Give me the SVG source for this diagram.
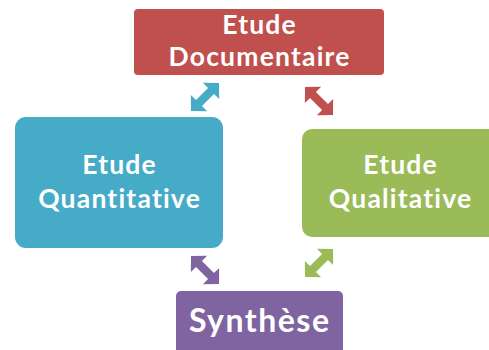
<svg xmlns="http://www.w3.org/2000/svg" xmlns:xlink="http://www.w3.org/1999/xlink" width="489" height="350" viewBox="0 0 489 350">
<style>
.lbl{font-family:Lato,"Open Sans",sans-serif;font-weight:700;font-size:26.5px;letter-spacing:1.2px;fill:#ffffff;text-anchor:middle}
.big{font-size:32px;letter-spacing:1.5px}
</style>
<defs>
<polygon id="dbl" points="-19.8,0 -8.5,-11.5 -8.5,-4.2 8.5,-4.2 8.5,-11.5 19.8,0 8.5,11.5 8.5,4.2 -8.5,4.2 -8.5,11.5"/>
</defs>
<rect width="489" height="350" fill="#ffffff"/>
<g id="connectors">
<use xlink:href="#dbl" fill="#45ABC7" transform="translate(205,97) rotate(-45)"/>
<use xlink:href="#dbl" fill="#C0504D" transform="translate(319,101) rotate(45)"/>
<use xlink:href="#dbl" fill="#9BBB59" transform="translate(319,263) rotate(-45)"/>
<use xlink:href="#dbl" fill="#8064A2" transform="translate(205,270) rotate(45)"/>
</g>
<g id="etude-documentaire">
<rect x="134" y="9" width="250" height="66" rx="4" fill="#C0504D"/>
<text class="lbl"><tspan x="259.6" y="34">Etude</tspan><tspan x="259.6" y="66">Documentaire</tspan></text>
</g>
<g id="etude-quantitative">
<rect x="15" y="117" width="208" height="131" rx="11" fill="#45ABC7"/>
<text class="lbl"><tspan x="119.6" y="174">Etude</tspan><tspan x="119.6" y="208">Quantitative</tspan></text>
</g>
<g id="etude-qualitative">
<rect x="302" y="129" width="200" height="108" rx="10" fill="#9BBB59"/>
<text class="lbl"><tspan x="400.6" y="174">Etude</tspan><tspan x="400.6" y="208">Qualitative</tspan></text>
</g>
<g id="synthese">
<rect x="176" y="291" width="167" height="80" rx="5" fill="#8064A2"/>
<text class="lbl big" x="259.7" y="332">Synthèse</text>
</g>
</svg>
